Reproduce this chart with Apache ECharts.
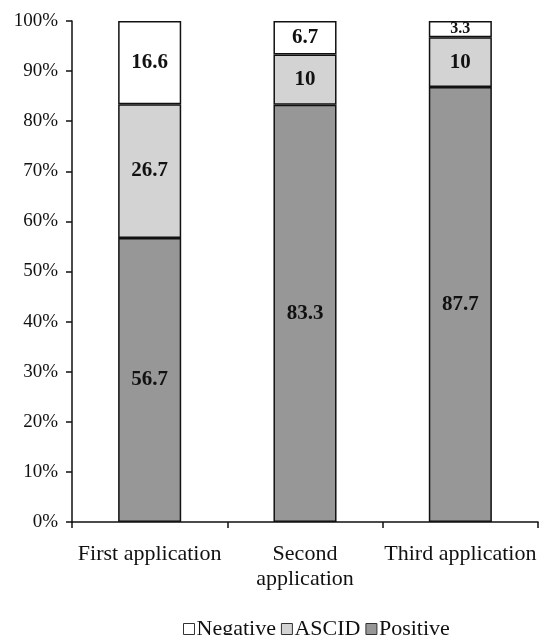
<!DOCTYPE html>
<html lang="en">
<head>
    <meta charset="UTF-8">
    <title>Stacked 100% bars</title>
</head>
<body style="margin:0">
    <div id="main" style="width:540px;height:635px;"></div>
    <script src="https://cdn.jsdelivr.net/npm/echarts@6/dist/echarts.min.js"></script>
    <script>
        var categories = ['First application', 'Second\napplication', 'Third application'];
        var positive = [56.7, 83.3, 87.7];
        var ascid = [26.7, 10, 10];
        var negative = [16.6, 6.7, 3.3];

        // 100% stacked: share of each group total
        var totals = positive.map(function (v, i) { return v + ascid[i] + negative[i]; });
        function share(arr) {
            return arr.map(function (v, i) {
                return { value: v / totals[i] * 100, raw: v };
            });
        }

        var font = 'Liberation Serif';
        var myChart = echarts.init(document.getElementById('main'));

        function makeSeries(name, arr, color) {
            return {
                name: name,
                type: 'bar',
                stack: 'total',
                barWidth: '40.6%',
                itemStyle: { color: color, borderColor: '#111', borderWidth: 1.5 },
                label: {
                    show: true,
                    position: 'inside',
                    fontFamily: font,
                    fontWeight: 'bold',
                    fontSize: 21,
                    color: '#111',
                    formatter: function (p) {
                        // thin top slice gets a smaller label
                        return p.data.raw < 5 ? '{s|' + p.data.raw + '}' : p.data.raw;
                    },
                    rich: { s: { fontFamily: font, fontWeight: 'bold', fontSize: 16, color: '#111' } }
                },
                data: share(arr)
            };
        }

        var option = {
            animation: false,
            grid: { left: 72, right: 2, top: 21, bottom: 113 },
            legend: {
                top: 613,
                left: 178,
                itemWidth: 11,
                itemHeight: 11,
                itemGap: 5,
                icon: 'rect',
                data: ['Negative', 'ASCID', 'Positive'],
                textStyle: { fontFamily: font, fontSize: 22, color: '#111', padding: [0, 0, 0, -3] },
                itemStyle: { borderColor: '#333', borderWidth: 1 }
            },
            xAxis: {
                type: 'category',
                data: categories,
                axisLine: { lineStyle: { color: '#111', width: 1.5 } },
                axisTick: { show: true, length: 6, lineStyle: { color: '#111', width: 1.5 } },
                axisLabel: { fontFamily: font, fontSize: 22, color: '#111', margin: 20, lineHeight: 25, interval: 0 }
            },
            yAxis: {
                type: 'value',
                min: 0,
                max: 100,
                interval: 10,
                splitLine: { show: false },
                axisLine: { show: true, lineStyle: { color: '#111', width: 1.5 } },
                axisTick: { show: true, length: 6, lineStyle: { color: '#111', width: 1.5 } },
                axisLabel: { fontFamily: font, fontSize: 19, color: '#111', margin: 14, formatter: '{value}%' }
            },
            series: [
                makeSeries('Positive', positive, '#979797'),
                makeSeries('ASCID', ascid, '#d3d3d3'),
                makeSeries('Negative', negative, '#ffffff')
            ]
        };
        myChart.setOption(option);
    </script>
</body>
</html>
